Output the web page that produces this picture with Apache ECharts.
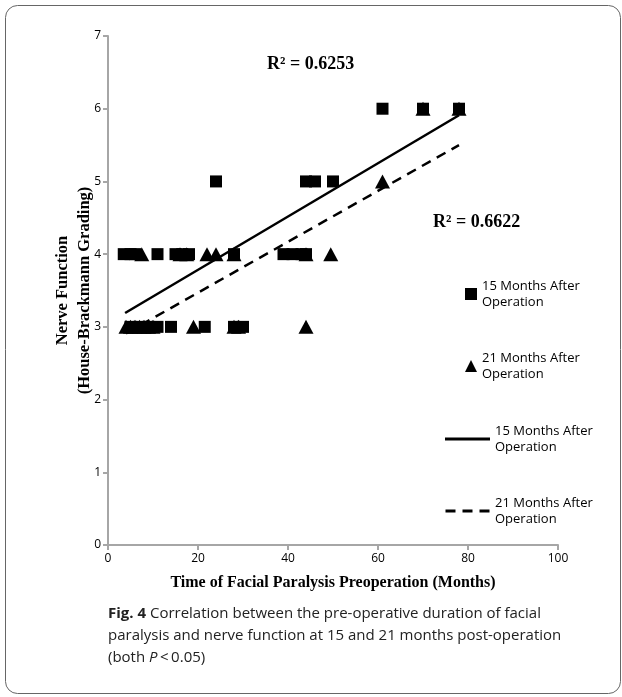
<!DOCTYPE html>
<html>
<head>
<meta charset="utf-8">
<script src="https://cdn.jsdelivr.net/npm/echarts@6/dist/echarts.min.js"></script>
<style>html,body{margin:0;padding:0;background:#fff;}#c{width:622px;height:697px;}</style>
</head>
<body>
<div id="c"></div>
<script>
// 15 months after operation (squares)
var x15 = [3.5, 5, 6, 11, 15, 16.5, 18, 28, 39, 41, 43, 44, 24, 44, 46, 50, 61, 70, 78, 5, 7, 9, 11, 14, 21.5, 28, 30];
var y15 = [4, 4, 4, 4, 4, 4, 4, 4, 4, 4, 4, 4, 5, 5, 5, 5, 6, 6, 6, 3, 3, 3, 3, 3, 3, 3, 3];
// 21 months after operation (triangles)
var x21 = [4, 5, 6, 7, 8, 9, 10, 19, 28, 29, 44, 7.5, 16, 17.5, 22, 24, 28, 44, 49.5, 61, 70, 78];
var y21 = [3, 3, 3, 3, 3, 3, 3, 3, 3, 3, 3, 4, 4, 4, 4, 4, 4, 4, 4, 5, 6, 6];
// trend line end points
var trend15X = [3.8, 78];
var trend15Y = [3.19, 5.91];
var trend21X = [4, 78];
var trend21Y = [2.91, 5.50];
var xTicks = [0, 20, 40, 60, 80, 100];
var yTicks = [0, 1, 2, 3, 4, 5, 6, 7];
var legendKeys = ['s15', 's21', 'l15', 'l21'];
var legendNames = ['15 Months After\nOperation', '21 Months After\nOperation', '15 Months After\nOperation', '21 Months After\nOperation'];

function pairs(xs, ys) { return xs.map(function (v, i) { return [v, ys[i]]; }); }
function legendLabel(n) { return legendNames[legendKeys.indexOf(n)]; }

var chart = echarts.init(document.getElementById('c'));
var serif = '"Liberation Serif", "DejaVu Serif", serif';
var sans = '"Open Sans", "Noto Sans", sans-serif';
var legendText = { fontFamily: sans, fontSize: 13, color: '#000', lineHeight: 16 };
chart.setOption({
  animation: false,
  backgroundColor: '#fff',
  grid: { left: 108, right: 64, top: 36, bottom: 152, containLabel: false },
  xAxis: {
    type: 'value', min: 0, max: 100, interval: 20,
    name: 'Time of Facial Paralysis Preoperation (Months)',
    nameLocation: 'middle', nameGap: 30, nameMoveOverlap: false,
    nameTextStyle: { fontFamily: serif, fontWeight: 'bold', fontSize: 16, color: '#000' },
    axisLine: { lineStyle: { color: '#a6a6a6', width: 2 } },
    axisTick: { show: true, length: 5, lineStyle: { color: '#a6a6a6', width: 2 } },
    axisLabel: { fontFamily: sans, fontSize: 12, color: '#000', margin: 8,
      formatter: function (v) { return xTicks.indexOf(v) >= 0 ? String(v) : ''; } },
    splitLine: { show: false }
  },
  yAxis: {
    type: 'value', min: 0, max: 7, interval: 1,
    name: 'Nerve Function\n(House-Brackmann Grading)',
    nameLocation: 'middle', nameGap: 12, nameMoveOverlap: false,
    nameTextStyle: { fontFamily: serif, fontWeight: 'bold', fontSize: 16.5, color: '#000', lineHeight: 22 },
    axisLine: { show: true, lineStyle: { color: '#a6a6a6', width: 2 } },
    axisTick: { show: true, length: 5, lineStyle: { color: '#a6a6a6', width: 2 } },
    axisLabel: { fontFamily: sans, fontSize: 12, color: '#000', margin: 7,
      formatter: function (v) { return yTicks.indexOf(v) >= 0 ? String(v) : ''; } },
    splitLine: { show: false }
  },
  legend: [
    {
      orient: 'vertical', left: 460, top: 273, itemGap: 40,
      itemWidth: 12, itemHeight: 12,
      data: [
        { name: 's15', icon: 'rect', itemStyle: { color: '#000', opacity: 1 } },
        { name: 's21', icon: 'triangle', itemStyle: { color: '#000', opacity: 1 } }
      ],
      formatter: legendLabel, textStyle: legendText
    },
    {
      orient: 'vertical', left: 440, top: 418, itemGap: 40,
      itemWidth: 45, itemHeight: 3,
      data: [
        { name: 'l15', icon: 'path://M0,0H45V3H0Z', itemStyle: { color: '#000' } },
        { name: 'l21', icon: 'path://M0,0H10V3H0Z M17,0H27V3H17Z M34,0H44V3H34Z', itemStyle: { color: '#000' } }
      ],
      formatter: legendLabel, textStyle: legendText
    }
  ],
  series: [
    { name: 's15', type: 'scatter', symbol: 'rect', symbolSize: 12, z: 3,
      itemStyle: { color: '#000', opacity: 1 }, data: pairs(x15, y15) },
    { name: 's21', type: 'scatter', symbol: 'triangle', symbolSize: [15, 14], z: 2,
      itemStyle: { color: '#000', opacity: 1 }, data: pairs(x21, y21) },
    { name: 'l15', type: 'line', symbol: 'none', z: 4,
      lineStyle: { color: '#000', width: 2.5, type: 'solid' }, itemStyle: { color: '#000' },
      data: pairs(trend15X, trend15Y) },
    { name: 'l21', type: 'line', symbol: 'none', z: 4,
      lineStyle: { color: '#000', width: 2.5, type: [10, 7] }, itemStyle: { color: '#000' },
      data: pairs(trend21X, trend21Y) }
  ],
  graphic: [
    { type: 'rect', left: 3, top: 3, shape: { width: 615, height: 688, r: 12 },
      style: { fill: 'none', stroke: '#666', lineWidth: 1 }, silent: true },
    { type: 'text', left: 267, top: 55,
      style: { text: 'R² = 0.6253', font: 'bold 18px ' + serif, fill: '#000' } },
    { type: 'text', left: 433, top: 213,
      style: { text: 'R² = 0.6622', font: 'bold 18px ' + serif, fill: '#000' } },
    { type: 'text', left: 108, top: 603,
      style: {
        text: '{b|Fig. 4} Correlation between the pre-operative duration of facial\nparalysis and nerve function at 15 and 21 months post-operation\n(both {i|P}\u2009<\u20090.05)',
        font: '15px ' + sans, fill: '#222', lineHeight: 22,
        rich: {
          b: { fontFamily: sans, fontWeight: 'bold', fontSize: 15, fill: '#222', lineHeight: 22 },
          i: { fontFamily: sans, fontStyle: 'italic', fontSize: 15, fill: '#222', lineHeight: 22 }
        }
      } }
  ]
});
</script>
</body>
</html>
